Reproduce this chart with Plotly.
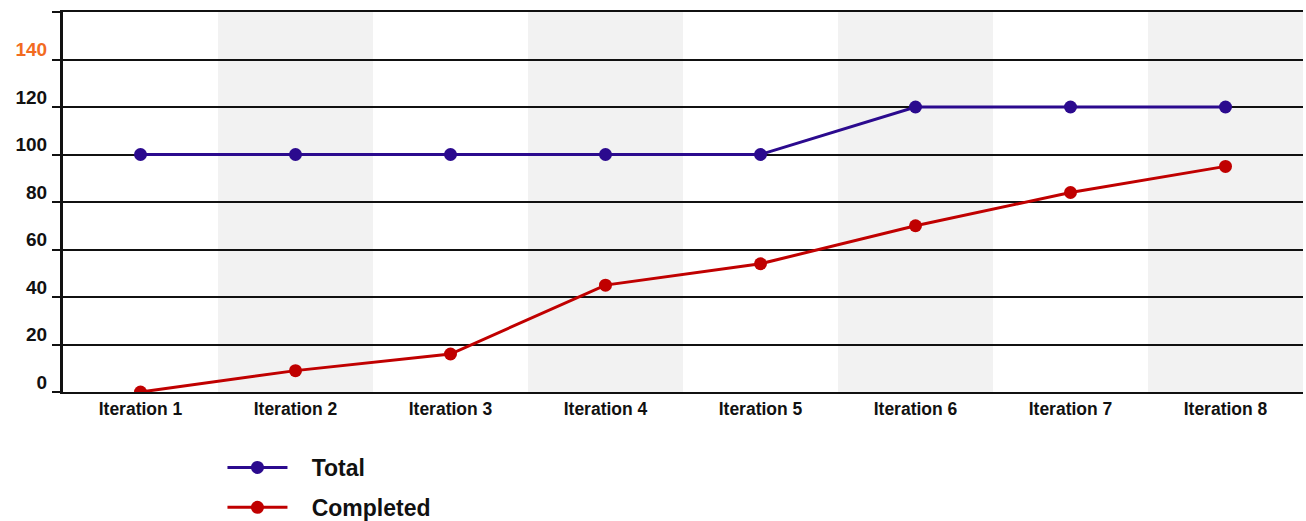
import plotly.graph_objects as go

# chart data
iterations = ["Iteration 1", "Iteration 2", "Iteration 3", "Iteration 4",
              "Iteration 5", "Iteration 6", "Iteration 7", "Iteration 8"]
total = [100, 100, 100, 100, 100, 120, 120, 120]
completed = [0, 9, 16, 45, 54, 70, 84, 95]
y_ticks = [0, 20, 40, 60, 80, 100, 120, 140, 160]
y_labels = ["0", "20", "40", "60", "80", "100", "120",
            "<span style='color:#f26b21'>140</span>", ""]

fig = go.Figure()

pad = "\u00a0\u00a0\u00a0"  # push legend text away from the symbol
fig.add_trace(go.Scatter(
    x=iterations, y=total, name=pad + "Total", mode="lines+markers",
    line=dict(color="#2b0a8e", width=3),
    marker=dict(color="#2b0a8e", size=13),
    legendgroup="a"
))
fig.add_trace(go.Scatter(
    x=iterations, y=completed, name=pad + "Completed", mode="lines+markers",
    line=dict(color="#c00000", width=3),
    marker=dict(color="#c00000", size=13),
    legendgroup="b"
))

# alternating shaded columns
shapes = []
for i in range(1, len(iterations), 2):
    shapes.append(dict(type="rect", xref="x", yref="paper",
                       x0=i - 0.5, x1=i + 0.5, y0=0, y1=1,
                       fillcolor="#f2f2f2", line=dict(width=0), layer="below"))

fig.update_layout(
    width=1306, height=521,
    margin=dict(l=63, r=3, t=12, b=129),
    paper_bgcolor="white", plot_bgcolor="white",
    font=dict(family="Liberation Sans, Arial, sans-serif", color="#111111"),
    shapes=shapes,
    showlegend=True,
    legend=dict(
        xref="paper", yref="container",
        x=0.1286, y=0.144, xanchor="left", yanchor="top",
        orientation="v", font=dict(size=23, color="#111111", weight="bold"),
        tracegroupgap=7, traceorder="grouped", itemwidth=60,
        bgcolor="rgba(0,0,0,0)"
    )
)

fig.update_xaxes(
    range=[-0.5, len(iterations) - 0.5], automargin=False,
    showgrid=False, showline=True, linecolor="#111111", linewidth=2,
    mirror=True, ticks="",
    tickfont=dict(size=17.5, weight="bold", color="#111111"),
)

fig.update_yaxes(
    range=[0, 160], automargin=False,
    tickvals=y_ticks, ticktext=y_labels,
    showgrid=True, gridcolor="#111111", gridwidth=2,
    showline=True, linecolor="#111111", linewidth=3,
    ticks="outside", ticklen=8, tickwidth=2, tickcolor="#111111",
    ticklabelshift=-10, ticklabelstandoff=1,
    tickfont=dict(size=19, weight="bold", color="#111111"),
    zeroline=False,
)

fig.write_html("out.html", config={"displayModeBar": False},
               post_script="document.body.style.margin='0';")
